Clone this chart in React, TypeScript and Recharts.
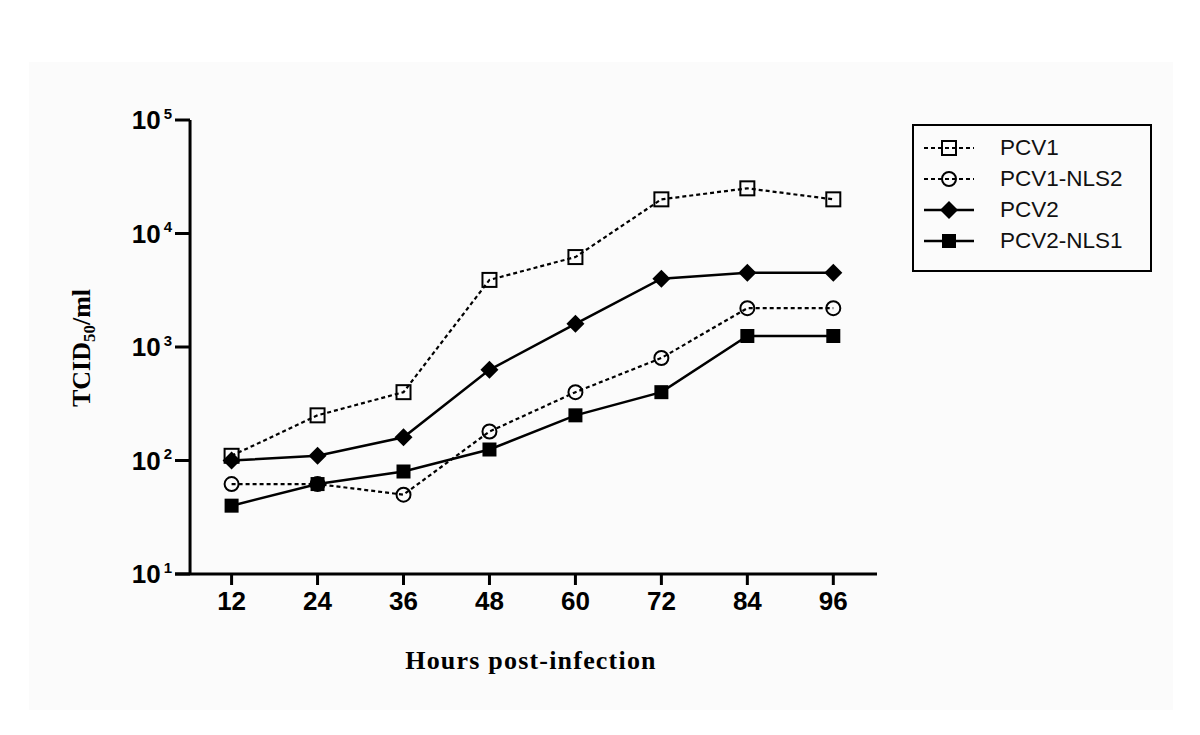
import { Line, LineChart, ReferenceLine, XAxis, YAxis } from "recharts";

// hours post-infection, log TCID50/ml values
const HOURS = [12, 24, 36, 48, 60, 72, 84, 96];
const PCV1 = [110, 250, 400, 3900, 6200, 20000, 25000, 20000];
const PCV1_NLS2 = [62, 62, 50, 180, 400, 800, 2200, 2200];
const PCV2 = [100, 110, 160, 630, 1600, 4000, 4500, 4500];
const PCV2_NLS1 = [40, 62, 80, 125, 250, 400, 1250, 1250];
const Y_TICKS = [10, 100, 1000, 10000, 100000];

type Shape = "openSquare" | "openCircle" | "diamond" | "filledSquare";

const SERIES: { key: string; name: string; values: number[]; dashed: boolean; shape: Shape }[] = [
  { key: "pcv1", name: "PCV1", values: PCV1, dashed: true, shape: "openSquare" },
  { key: "pcv1nls2", name: "PCV1-NLS2", values: PCV1_NLS2, dashed: true, shape: "openCircle" },
  { key: "pcv2", name: "PCV2", values: PCV2, dashed: false, shape: "diamond" },
  { key: "pcv2nls1", name: "PCV2-NLS1", values: PCV2_NLS1, dashed: false, shape: "filledSquare" },
];

const data = HOURS.map((hour, i) => {
  const row: Record<string, number> = { hour };
  SERIES.forEach((s) => (row[s.key] = s.values[i]));
  return row;
});

const SANS = '"Liberation Sans", Arial, sans-serif';
const SERIF = '"Liberation Serif", "Times New Roman", serif';
const DASH = "4 3";

function Marker({ shape, cx, cy }: { shape: Shape; cx: number; cy: number }) {
  switch (shape) {
    case "openSquare":
      return <rect x={cx - 7} y={cy - 7} width={14} height={14} fill="none" stroke="#000" strokeWidth={2} />;
    case "openCircle":
      return <circle cx={cx} cy={cy} r={7} fill="none" stroke="#000" strokeWidth={2} />;
    case "diamond":
      return (
        <polygon
          points={`${cx},${cy - 9} ${cx + 9},${cy} ${cx},${cy + 9} ${cx - 9},${cy}`}
          fill="#000"
        />
      );
    default:
      return <rect x={cx - 7} y={cy - 7} width={14} height={14} fill="#000" />;
  }
}

function YTick({ x, y, payload }: any) {
  const exp = Math.round(Math.log10(payload.value));
  return (
    <g>
      <line x1={x} x2={x + 15} y1={y} y2={y} stroke="#000" strokeWidth={3} />
      <text
        x={x - 3}
        y={y}
        dy={9}
        textAnchor="end"
        fontFamily={SANS}
        fontWeight="bold"
        fontSize={26}
        fill="#000"
      >
        10
        <tspan dx={3} dy={-10.5} fontSize={15}>
          {exp}
        </tspan>
      </text>
    </g>
  );
}

function LegendBox() {
  return (
    <div
      style={{
        position: "absolute",
        left: 912,
        top: 124,
        width: 240,
        height: 148,
        boxSizing: "border-box",
        border: "2px solid #000",
      }}
    >
      {SERIES.map((s, i) => (
        <div
          key={s.key}
          style={{ position: "absolute", left: 0, top: 22 + i * 31 - 14, height: 28, width: 236 }}
        >
          <svg width={56} height={28} style={{ position: "absolute", left: 8, top: 0 }}>
            <line
              x1={2}
              x2={52}
              y1={14}
              y2={14}
              stroke="#000"
              strokeWidth={s.dashed ? 2.2 : 2.5}
              strokeDasharray={s.dashed ? DASH : undefined}
            />
            <Marker shape={s.shape} cx={27} cy={14} />
          </svg>
          <span
            style={{
              position: "absolute",
              left: 86,
              top: 0,
              lineHeight: "28px",
              fontFamily: SANS,
              fontSize: 22.5,
              color: "#111",
              whiteSpace: "nowrap",
            }}
          >
            {s.name}
          </span>
        </div>
      ))}
    </div>
  );
}

export default function App() {
  return (
    <div style={{ position: "absolute", left: 0, top: 0, width: 1200, height: 735, background: "#fff" }}>
      <div
        style={{ position: "absolute", left: 29, top: 62, width: 1144, height: 648, background: "#fbfbfb" }}
      />
      <div style={{ position: "absolute", left: 0, top: 0 }}>
        <LineChart
          width={1200}
          height={735}
          data={data}
          margin={{ top: 120, right: 323, bottom: 101, left: 75 }}
        >
          <XAxis
            dataKey="hour"
            type="number"
            domain={[4.1, 102.1]}
            ticks={HOURS}
            interval={0}
            allowDataOverflow
            height={60}
            tickSize={11}
            tickMargin={7}
            axisLine={{ stroke: "#000", strokeWidth: 3 }}
            tickLine={{ stroke: "#000", strokeWidth: 3 }}
            tick={{ fill: "#000", fontSize: 26, fontWeight: "bold", fontFamily: SANS }}
          />
          <YAxis
            type="number"
            scale="log"
            domain={[10, 100000]}
            ticks={Y_TICKS}
            interval={0}
            allowDataOverflow
            width={100}
            tickSize={0}
            tickMargin={0}
            axisLine={false}
            tickLine={false}
            tick={<YTick />}
          />
          <ReferenceLine x={6.2} stroke="#000" strokeWidth={3} />
          {SERIES.map((s) => (
            <Line
              key={s.key}
              dataKey={s.key}
              type="linear"
              stroke="#000"
              strokeWidth={s.dashed ? 2.2 : 2.5}
              strokeDasharray={s.dashed ? DASH : undefined}
              dot={(p: any) => <Marker key={`${s.key}-${p.index}`} shape={s.shape} cx={p.cx} cy={p.cy} />}
              activeDot={false}
              isAnimationActive={false}
            />
          ))}
        </LineChart>
      </div>
      <LegendBox />
      <div
        style={{
          position: "absolute",
          left: 281,
          top: 646,
          width: 500,
          textAlign: "center",
          lineHeight: "30px",
          fontFamily: SERIF,
          fontWeight: "bold",
          fontSize: 26,
          letterSpacing: 1.2,
          color: "#000",
        }}
      >
        Hours post-infection
      </div>
      <div
        style={{
          position: "absolute",
          left: -18,
          top: 333,
          width: 200,
          height: 30,
          textAlign: "center",
          lineHeight: "30px",
          fontFamily: SERIF,
          fontWeight: "bold",
          fontSize: 26,
          color: "#000",
          transform: "rotate(-90deg)",
        }}
      >
        TCID<span style={{ fontSize: 17, verticalAlign: "-5px", lineHeight: 0 }}>50</span>/ml
      </div>
    </div>
  );
}
